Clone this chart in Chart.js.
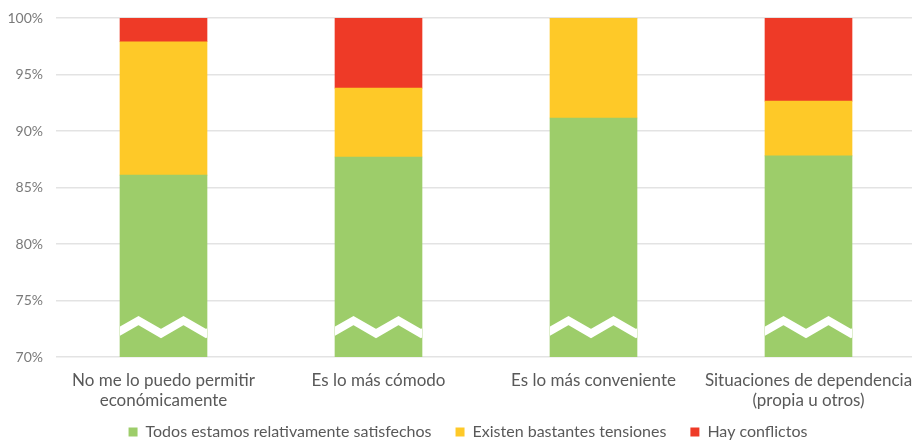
<!DOCTYPE html>
<html>
<head>
<meta charset="utf-8">
<script src="https://cdn.jsdelivr.net/npm/chart.js@4.4.1/dist/chart.umd.min.js"></script>
<style>
  html, body { margin: 0; padding: 0; background: #fff; }
  #wrap { width: 912px; height: 444px; position: relative; }
</style>
</head>
<body>
<div id="wrap"><canvas id="c" width="912" height="444"></canvas></div>
<script>
const categories = [
  ['No me lo puedo permitir', 'económicamente'],
  'Es lo más cómodo',
  'Es lo más conveniente',
  ['Situaciones de dependencia', '(propia u otros)']
];
const seriesNames = ['Todos estamos relativamente satisfechos', 'Existen bastantes tensiones', 'Hay conflictos'];
const satisfechos = [86.1, 87.7, 91.15, 87.8];
const tensiones   = [11.8, 6.1, 8.85, 4.85];
const conflictos  = [2.1, 6.2, 0, 7.35];
const yTicks = [70, 75, 80, 85, 90, 95, 100];
const breakValue = 72.65;

const colors = ['#9dcd6a', '#fec928', '#ee3a27'];
const FONT = 'Lato, "Open Sans", sans-serif';

const breakPlugin = {
  id: 'axisBreak',
  afterDatasetsDraw(chart) {
    const meta = chart.getDatasetMeta(0);
    const ys = chart.scales.y;
    const yc = ys.getPixelForValue(breakValue);
    const ctx = chart.ctx;
    meta.data.forEach(bar => {
      const L = bar.x - bar.width / 2;
      const R = bar.x + bar.width / 2;
      ctx.save();
      ctx.beginPath();
      ctx.rect(L, yc - 20, R - L, 40);
      ctx.clip();
      ctx.strokeStyle = '#ffffff';
      ctx.lineWidth = 8;
      ctx.lineJoin = 'miter';
      ctx.beginPath();
      const half = 22.5;
      let x = L - 4, up = false;
      ctx.moveTo(x, yc + 6.5);
      while (x < R + half) {
        x += half;
        up = !up;
        ctx.lineTo(x, yc + (up ? -6.5 : 6.5));
      }
      ctx.stroke();
      ctx.restore();
    });
  }
};

// compact legend box and slightly wider category band (plot runs past the right edge)
const layoutTweaks = {
  id: 'layoutTweaks',
  beforeLayout(chart) {
    const lg = chart.legend;
    if (lg && !lg._patched) {
      const orig = lg.fit;
      lg.fit = function () { orig.call(this); this.height = 32; };
      lg._patched = true;
    }
  },
  afterLayout(chart) {
    const lg = chart.legend;
    if (lg) { lg.left += 12; lg.right += 12; lg.top = 400; lg.bottom = 444; }
    const xs = chart.scales.x;
    xs.right = xs.left + 860;
    xs.width = 860;
    xs.configure();
  }
};

new Chart(document.getElementById('c'), {
  type: 'bar',
  data: {
    labels: categories,
    datasets: [
      { label: seriesNames[0], data: satisfechos, backgroundColor: colors[0] },
      { label: seriesNames[1], data: tensiones, backgroundColor: colors[1] },
      { label: seriesNames[2], data: conflictos, backgroundColor: colors[2] }
    ]
  },
  options: {
    responsive: false,
    animation: false,
    devicePixelRatio: 1,
    layout: { padding: { top: 18, right: 0, left: 0, bottom: 0 } },
    datasets: { bar: { barThickness: 87, borderWidth: 0 } },
    plugins: {
      tooltip: { enabled: false },
      legend: {
        position: 'bottom',
        labels: {
          boxWidth: 9, boxHeight: 9,
          padding: 24,
          color: '#595959',
          font: { family: FONT, size: 16 }
        }
      }
    },
    scales: {
      x: {
        stacked: true,
        grid: { display: false, drawTicks: false },
        border: { display: false },
        afterFit: s => { s.height = 55; s.paddingLeft = 0; s.paddingRight = 0; },
        ticks: {
          color: '#595959',
          padding: 14,
          maxRotation: 0,
          autoSkip: false,
          font: { family: FONT, size: 17, lineHeight: 1.15 }
        }
      },
      y: {
        stacked: true,
        min: 70, max: 100,
        afterBuildTicks: s => { s.ticks = yTicks.map(v => ({ value: v })); },
        afterFit: s => { s.width = 56; s.paddingTop = 0; s.paddingBottom = 0; },
        grid: { color: '#e3e3e3', lineWidth: 1.5, drawTicks: false },
        border: { display: false },
        ticks: {
          color: '#7a7a7a',
          padding: 13,
          font: { family: FONT, size: 14 },
          callback: v => v + '%'
        }
      }
    }
  },
  plugins: [breakPlugin, layoutTweaks]
});
</script>
</body>
</html>
